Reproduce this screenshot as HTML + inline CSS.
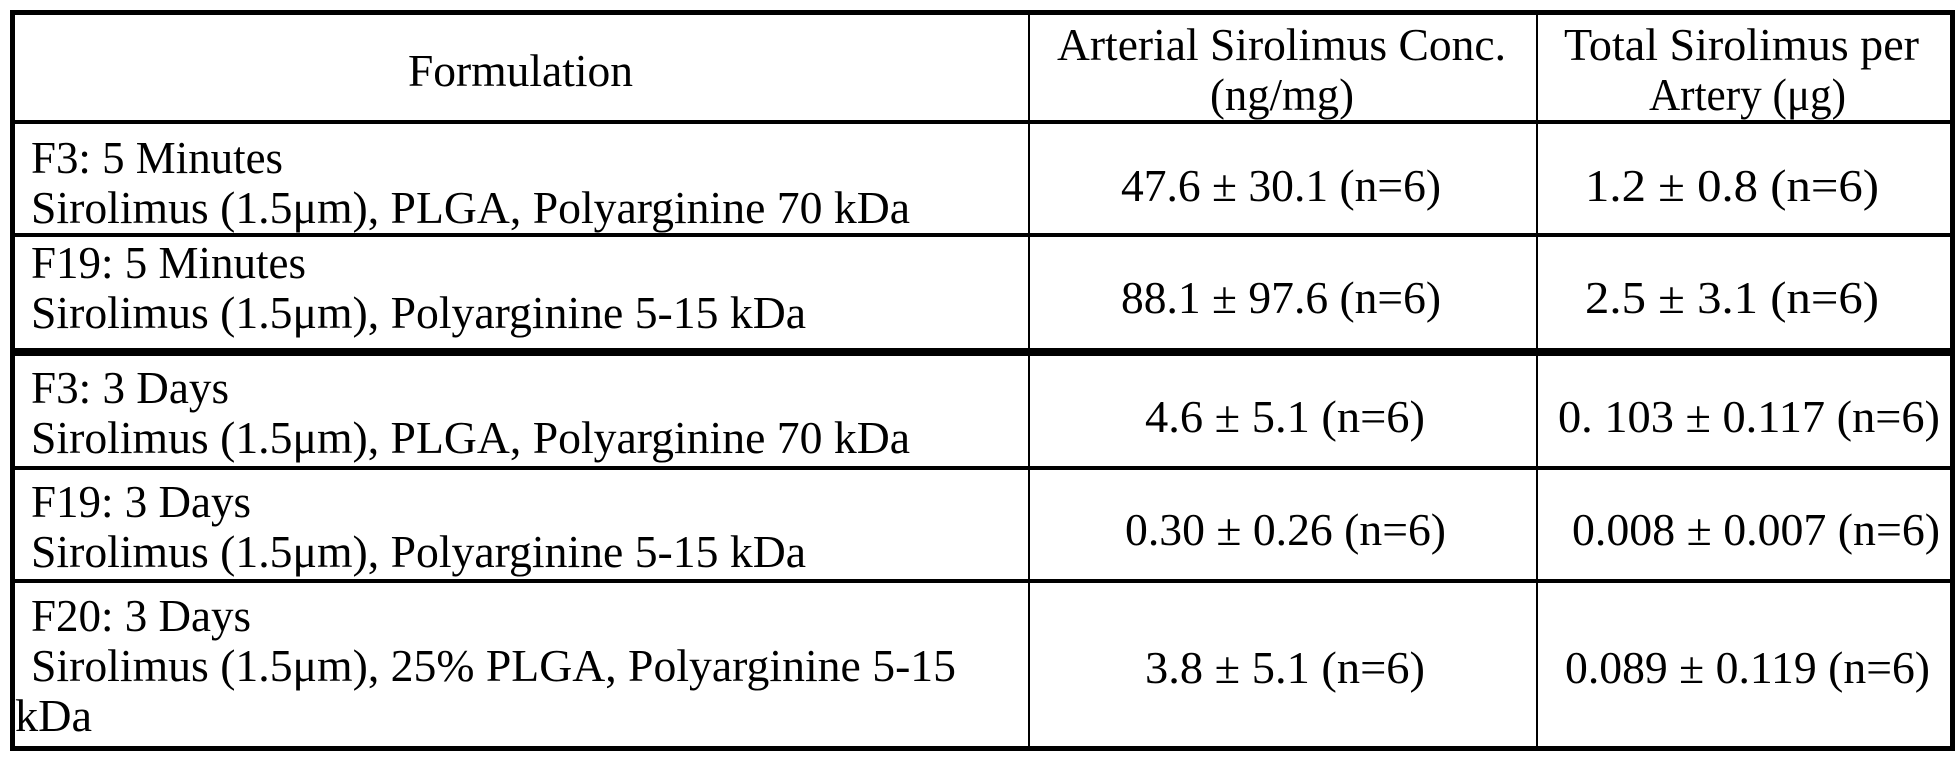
<!DOCTYPE html>
<html><head><meta charset="utf-8"><style>
html,body{margin:0;padding:0;background:#fff;}
svg{display:block;}
text{font-family:"Liberation Serif",serif;font-size:46px;fill:#000;}
</style></head><body>
<svg width="1959" height="763" viewBox="0 0 1959 763" xmlns="http://www.w3.org/2000/svg">
<rect x="0" y="0" width="1959" height="763" fill="#fff"/>
<g fill="#000">
<rect x="10" y="10" width="1945" height="5"/>
<rect x="10" y="746" width="1945" height="5"/>
<rect x="10" y="10" width="5" height="741"/>
<rect x="1950" y="10" width="5" height="741"/>
<rect x="10" y="120" width="1945" height="4"/>
<rect x="10" y="233" width="1945" height="4"/>
<rect x="10" y="348" width="1945" height="8"/>
<rect x="10" y="466" width="1945" height="4"/>
<rect x="10" y="579" width="1945" height="4"/>
<rect x="1028" y="10" width="2" height="741"/>
<rect x="1536" y="10" width="2" height="741"/>
</g>
<g>
<text x="408" y="86" textLength="225" lengthAdjust="spacingAndGlyphs">Formulation</text>
<text x="1057" y="60" textLength="449" lengthAdjust="spacingAndGlyphs">Arterial Sirolimus Conc.</text>
<text x="1210" y="110" textLength="144" lengthAdjust="spacingAndGlyphs">(ng/mg)</text>
<text x="1564" y="60" textLength="355" lengthAdjust="spacingAndGlyphs">Total Sirolimus per</text>
<text x="1649" y="110" textLength="197" lengthAdjust="spacingAndGlyphs">Artery (μg)</text>

<text x="31" y="173" textLength="252" lengthAdjust="spacingAndGlyphs">F3: 5 Minutes</text>
<text x="31" y="223" textLength="879" lengthAdjust="spacingAndGlyphs">Sirolimus (1.5μm), PLGA, Polyarginine 70 kDa</text>
<text x="1121" y="201" textLength="320" lengthAdjust="spacingAndGlyphs">47.6 ± 30.1 (n=6)</text>
<text x="1585" y="201" textLength="294" lengthAdjust="spacingAndGlyphs">1.2 ± 0.8 (n=6)</text>

<text x="31" y="278" textLength="275" lengthAdjust="spacingAndGlyphs">F19: 5 Minutes</text>
<text x="31" y="328" textLength="775" lengthAdjust="spacingAndGlyphs">Sirolimus (1.5μm), Polyarginine 5-15 kDa</text>
<text x="1121" y="313" textLength="320" lengthAdjust="spacingAndGlyphs">88.1 ± 97.6 (n=6)</text>
<text x="1585" y="313" textLength="294" lengthAdjust="spacingAndGlyphs">2.5 ± 3.1 (n=6)</text>

<text x="31" y="403" textLength="198" lengthAdjust="spacingAndGlyphs">F3: 3 Days</text>
<text x="31" y="453" textLength="879" lengthAdjust="spacingAndGlyphs">Sirolimus (1.5μm), PLGA, Polyarginine 70 kDa</text>
<text x="1145" y="432" textLength="280" lengthAdjust="spacingAndGlyphs">4.6 ± 5.1 (n=6)</text>
<text x="1558" y="432" textLength="382" lengthAdjust="spacingAndGlyphs">0. 103 ± 0.117 (n=6)</text>

<text x="31" y="517" textLength="220" lengthAdjust="spacingAndGlyphs">F19: 3 Days</text>
<text x="31" y="567" textLength="775" lengthAdjust="spacingAndGlyphs">Sirolimus (1.5μm), Polyarginine 5-15 kDa</text>
<text x="1125" y="545" textLength="321" lengthAdjust="spacingAndGlyphs">0.30 ± 0.26 (n=6)</text>
<text x="1572" y="545" textLength="368" lengthAdjust="spacingAndGlyphs">0.008 ± 0.007 (n=6)</text>

<text x="31" y="631" textLength="220" lengthAdjust="spacingAndGlyphs">F20: 3 Days</text>
<text x="31" y="681" textLength="925" lengthAdjust="spacingAndGlyphs">Sirolimus (1.5μm), 25% PLGA, Polyarginine 5-15</text>
<text x="15" y="731" textLength="77" lengthAdjust="spacingAndGlyphs">kDa</text>
<text x="1145" y="683" textLength="280" lengthAdjust="spacingAndGlyphs">3.8 ± 5.1 (n=6)</text>
<text x="1565" y="683" textLength="365" lengthAdjust="spacingAndGlyphs">0.089 ± 0.119 (n=6)</text>
</g>
</svg>
</body></html>
